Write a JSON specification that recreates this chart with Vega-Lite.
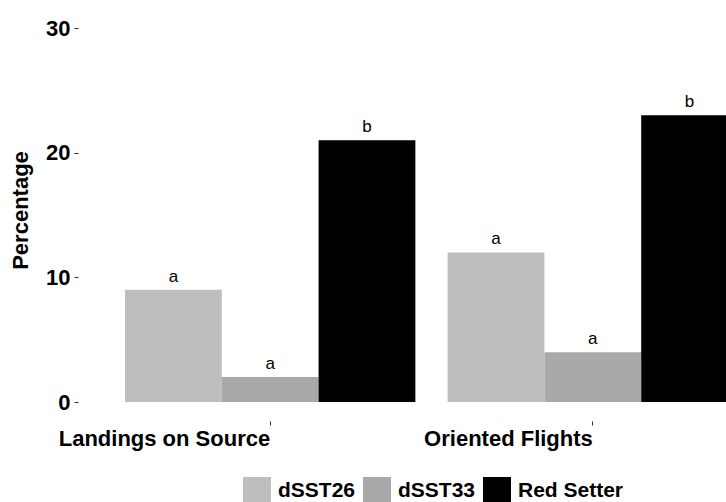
{
  "$schema": "https://vega.github.io/schema/vega-lite/v6.json",
  "autosize": {"type": "none"},
  "width": 648,
  "height": 374,
  "padding": {"left": 78, "top": 28, "right": 0, "bottom": 100},
  "background": "white",
  "config": {
    "view": {"stroke": null},
    "font": "Liberation Sans"
  },
  "data": {
    "values": [
      {"group": "Landings on Source", "type": "dSST26", "value": 9, "label": "a"},
      {"group": "Landings on Source", "type": "dSST33", "value": 2, "label": "a"},
      {"group": "Landings on Source", "type": "Red Setter", "value": 21, "label": "b"},
      {"group": "Oriented Flights", "type": "dSST26", "value": 12, "label": "a"},
      {"group": "Oriented Flights", "type": "dSST33", "value": 4, "label": "a"},
      {"group": "Oriented Flights", "type": "Red Setter", "value": 23, "label": "b"}
    ]
  },
  "encoding": {
    "x": {
      "field": "group",
      "type": "nominal",
      "sort": ["Landings on Source", "Oriented Flights"],
      "scale": {"range": [0, 707], "paddingInner": 0.1, "paddingOuter": 0.1457},
      "axis": {
        "title": null,
        "domain": false,
        "grid": false,
        "offset": 19,
        "tickSize": 4,
        "tickColor": "#333333",
        "labelAngle": 0,
        "labelAlign": "right",
        "labelBaseline": "top",
        "labelPadding": 3,
        "labelLimit": 0,
        "labelFontSize": 22,
        "labelFontWeight": "bold",
        "labelColor": "black"
      }
    },
    "xOffset": {
      "field": "type",
      "type": "nominal",
      "sort": ["dSST26", "dSST33", "Red Setter"],
      "scale": {"paddingInner": 0, "paddingOuter": 0}
    },
    "y": {
      "field": "value",
      "type": "quantitative",
      "scale": {"domain": [0, 30], "nice": false},
      "axis": {
        "title": "Percentage",
        "values": [0, 10, 20, 30],
        "domain": false,
        "grid": false,
        "tickSize": 4,
        "tickColor": "#333333",
        "labelPadding": 4,
        "labelFontSize": 22,
        "labelFontWeight": "bold",
        "labelColor": "black",
        "titleFontSize": 22,
        "titleFontWeight": "bold",
        "titleColor": "black",
        "titlePadding": 13,
        "titleY": 182
      }
    }
  },
  "layer": [
    {
      "mark": {"type": "bar", "clip": true},
      "encoding": {
        "color": {
          "field": "type",
          "type": "nominal",
          "sort": ["dSST26", "dSST33", "Red Setter"],
          "scale": {"domain": ["dSST26", "dSST33", "Red Setter"], "range": ["#bebebe", "#a9a9a9", "#000000"]},
          "legend": {
            "title": null,
            "orient": "none",
            "direction": "horizontal",
            "legendX": 165,
            "legendY": 449,
            "symbolType": "square",
            "symbolSize": 784,
            "symbolStrokeWidth": 0,
            "symbolOpacity": 1,
            "labelFontSize": 21,
            "labelFontWeight": "bold",
            "labelColor": "black",
            "labelOffset": 7,
            "columnPadding": 7
          }
        }
      }
    },
    {
      "mark": {"type": "text", "baseline": "alphabetic", "dy": -8, "fontSize": 17, "color": "black", "clip": true},
      "encoding": {
        "text": {"field": "label"}
      }
    }
  ]
}
